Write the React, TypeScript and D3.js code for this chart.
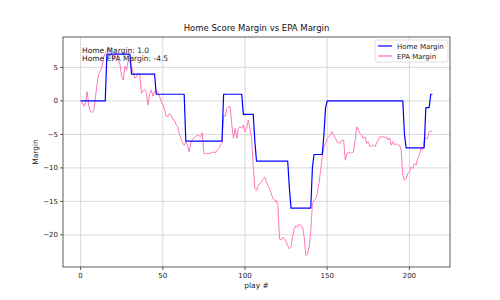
import * as d3 from 'd3';

// Home margin breakpoints (play #, margin)
const homePlays = [0, 15, 16, 30, 31, 45, 46, 63, 64, 86, 87, 98, 99, 105, 106, 107, 126, 127, 128, 140, 141, 142, 147, 148, 149, 150, 196, 197, 198, 209, 210, 212, 213, 214];
const homeMargin = [0, 0, 7, 7, 4, 4, 1, 1, -6, -6, 1, 1, -2, -2, -6, -9, -9, -13, -16, -16, -10, -8, -8, -5, -1, 0, 0, -5, -7, -7, -1, -1, 1, 1];

// EPA margin, one value per play 0..214
const epaMargin = [
  0, -0.3, -0.8, -0.3, 1.4, -0.8, -1.6, -1.7, -1.5, 0.5,
  2.5, 4.0, 4.5, 5.0, 6.5, 7.2, 7.5, 8.1, 7.6, 7.0,
  6.1, 6.8, 7.1, 6.0, 5.4, 3.6, 3.1, 5.2, 4.6, 6.1,
  5.8, 5.1, 4.2, 3.4, 3.6, 4.15, 4.0, 1.15, 1.5, 1.7,
  1.3, -0.6, 1.0, 1.65, 0.7, 1.4, 1.6, 1.2, 0.7, 0.0,
  -0.6, -1.1, -2.3, -2.35, -1.9, -2.1, -2.7, -2.85, -3.5, -3.85,
  -4.85, -5.6, -6.2, -6.6, -6.1, -6.6, -7.6, -6.35, -5.8, -5.5,
  -5.35, -5.1, -5.2, -5.35, -4.75, -7.85, -7.9, -7.85, -7.85, -7.8,
  -7.7, -7.6, -7.8, -7.35, -7.1, -6.6, -6.35, -2.1, -2.35, -1.1,
  -0.85, -0.9, -3.6, -5.6, -4.1, -5.6, -4.1, -3.85, -4.1, -3.6,
  -4.6, -4.1, -2.85, -4.1, -5.6, -9.6, -13.1, -13.35, -12.6, -12.35,
  -12.1, -11.6, -11.35, -12.1, -12.6, -13.1, -13.85, -14.6, -14.85, -14.85,
  -15.6, -20.6, -20.8, -20.35, -20.6, -21.0, -21.6, -22.1, -21.85, -20.1,
  -19.1, -18.6, -18.85, -18.35, -18.6, -18.85, -20.35, -23.1, -22.85, -21.85,
  -19.5, -15.35, -14.85, -14.6, -13.85, -12.35, -10.35, -8.35, -6.85, -6.35,
  -5.6, -5.35, -5.0, -4.6, -5.1, -5.6, -6.1, -6.2, -6.35, -5.85,
  -5.9, -8.85, -7.85, -7.75, -7.75, -7.75, -7.6, -5.85, -3.85, -4.35,
  -4.85, -5.1, -5.6, -5.35, -6.35, -6.1, -6.85, -6.7, -6.6, -6.85,
  -6.35, -5.85, -5.35, -5.4, -5.35, -5.45, -5.35, -5.85, -5.5, -6.6,
  -6.1, -6.6, -6.35, -6.6, -6.6, -7.35, -11.1, -11.85, -11.6, -10.85,
  -10.6, -9.85, -10.1, -9.35, -9.6, -8.6, -8.1, -7.1, -7.35, -5.85,
  -5.6, -5.6, -4.6, -4.5, -4.5,
];

const xTicks = [0, 50, 100, 150, 200];
const yTicks = [5, 0, -5, -10, -15, -20];

const font = 'DejaVu Sans, sans-serif';

export default function App() {
  const width = 500;
  const height = 300;
  const margin = { top: 37, right: 50, bottom: 33, left: 63 };
  const innerW = width - margin.left - margin.right;
  const innerH = height - margin.top - margin.bottom;

  const x = d3.scaleLinear().domain([-10.7, 224.7]).range([0, innerW]);
  const y = d3.scaleLinear().domain([-24.8, 9.55]).range([innerH, 0]);

  const homeLine = d3
    .line<number>()
    .x((_, i) => x(homePlays[i]))
    .y((d) => y(d));
  const epaLine = d3
    .line<number>()
    .x((_, i) => x(i))
    .y((d) => y(d));

  const fmt = (v: number) => (v < 0 ? `\u2212${Math.abs(v)}` : `${v}`);

  return (
    <svg width={width} height={height} style={{ position: 'absolute', left: 0, top: 0, background: '#fff' }} fontFamily={font}>
      <text x={margin.left + innerW / 2} y={31} textAnchor="middle" fontSize={8.5} fill="#111">
        Home Score Margin vs EPA Margin
      </text>
      <g transform={`translate(${margin.left},${margin.top})`}>
        {xTicks.map((t) => (
          <line key={`gx${t}`} x1={x(t)} x2={x(t)} y1={0} y2={innerH} stroke="#d0d0d0" strokeWidth={0.8} />
        ))}
        {yTicks.map((t) => (
          <line key={`gy${t}`} x1={0} x2={innerW} y1={y(t)} y2={y(t)} stroke="#d0d0d0" strokeWidth={0.8} />
        ))}
        <path d={epaLine(epaMargin) ?? ''} fill="none" stroke="#ff69b4" strokeWidth={0.9} strokeLinejoin="round" />
        <path d={homeLine(homeMargin) ?? ''} fill="none" stroke="#0000ff" strokeWidth={1.2} strokeLinejoin="round" />
        <rect x={0} y={0} width={innerW} height={innerH} fill="none" stroke="#333" strokeWidth={0.8} />
        {xTicks.map((t) => (
          <g key={`tx${t}`} transform={`translate(${x(t)},${innerH})`}>
            <line y1={0} y2={3} stroke="#333" strokeWidth={0.8} />
            <text y={11} textAnchor="middle" fontSize={7} fill="#222">
              {fmt(t)}
            </text>
          </g>
        ))}
        {yTicks.map((t) => (
          <g key={`ty${t}`} transform={`translate(0,${y(t)})`}>
            <line x1={-3} x2={0} stroke="#333" strokeWidth={0.8} />
            <text x={-5} dy="0.35em" textAnchor="end" fontSize={7} fill="#222">
              {fmt(t)}
            </text>
          </g>
        ))}
        <text x={innerW / 2} y={innerH + 21} textAnchor="middle" fontSize={7.5} fill="#222">
          play #
        </text>
        <text transform={`translate(${-25},${innerH / 2}) rotate(-90)`} textAnchor="middle" fontSize={7.5} fill="#222">
          Margin
        </text>
        <text x={x(0) + 1.5} y={16} fontSize={7.5} fill="#222">
          Home Margin: 1.0
        </text>
        <text x={x(0) + 1.5} y={24} fontSize={7.5} fill="#222">
          Home EPA Margin: -4.5
        </text>
        <g transform={`translate(${innerW - 75},3)`}>
          <rect x={0} y={0} width={73} height={22} rx={2} fill="#fff" fillOpacity={0.85} stroke="#d6d6d6" strokeWidth={0.8} />
          <line x1={3} x2={17} y1={6} y2={6} stroke="#0000ff" strokeWidth={1.2} />
          <text x={22} y={8.5} fontSize={7} fill="#222">Home Margin</text>
          <line x1={3} x2={17} y1={16} y2={16} stroke="#ff69b4" strokeWidth={1.2} />
          <text x={22} y={18.5} fontSize={7} fill="#222">EPA Margin</text>
        </g>
      </g>
    </svg>
  );
}
